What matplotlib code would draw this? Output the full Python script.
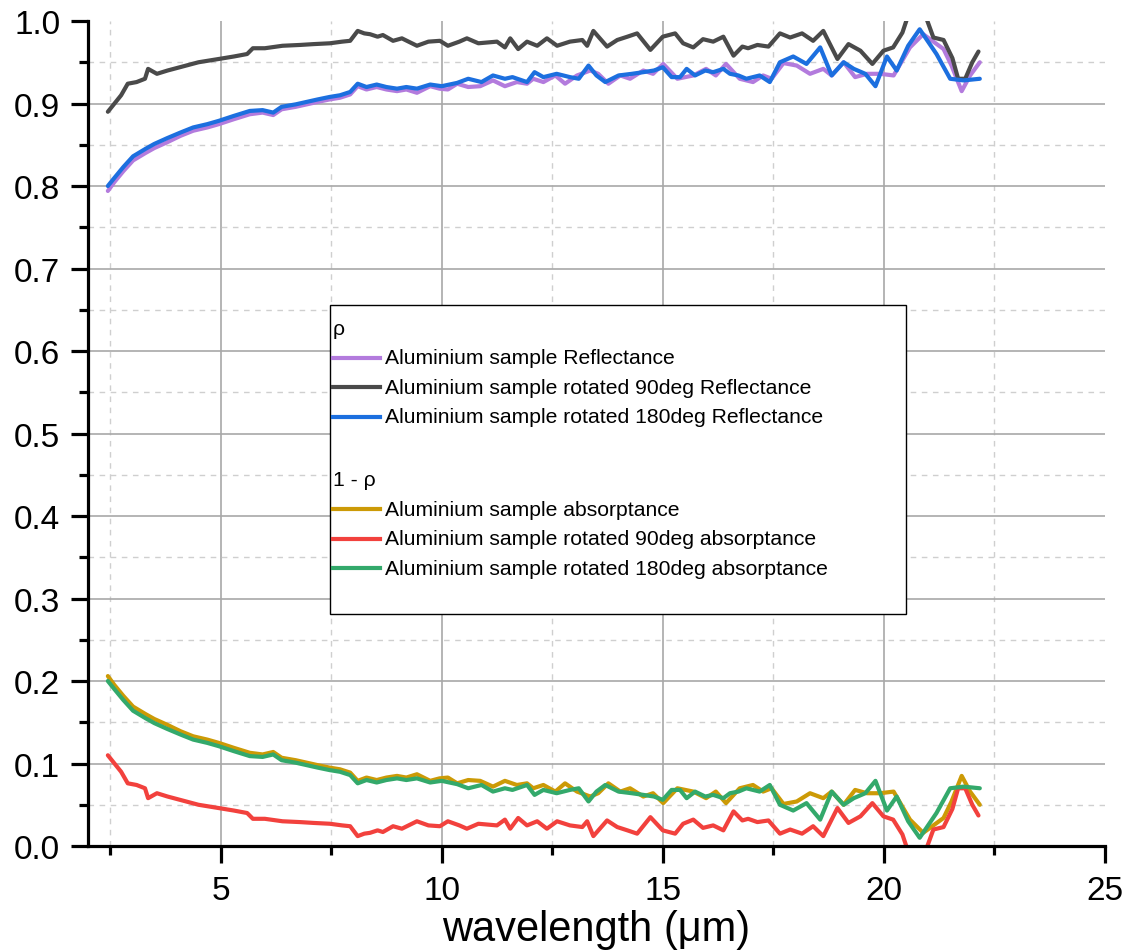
import matplotlib.pyplot as plt
import numpy as np
from matplotlib.lines import Line2D
from matplotlib.patches import Rectangle
from matplotlib.ticker import MultipleLocator

plt.rcParams['font.family'] = ['Liberation Sans', 'DejaVu Sans']

# reflectance, wavelength in um
wl_0 = [2.45, 2.6, 2.8, 3.02, 3.3, 3.5, 3.79, 4.1, 4.38, 4.7, 4.96, 5.3, 5.66, 5.95, 6.19,
        6.38, 6.7, 6.95, 7.2, 7.47, 7.7, 7.93, 8.1, 8.3, 8.53, 8.75, 8.99, 9.2, 9.44, 9.74,
        9.95, 10.14, 10.35, 10.6, 10.87, 11.16, 11.43, 11.7, 11.93, 12.07, 12.3, 12.57, 12.79,
        13.06, 13.36, 13.54, 13.77, 14.04, 14.26, 14.56, 14.78, 15.01, 15.33, 15.69, 15.98,
        16.2, 16.43, 16.74, 17.04, 17.27, 17.46, 17.73, 18.03, 18.33, 18.63, 18.82, 19.09,
        19.35, 19.62, 19.92, 20.22, 20.59, 20.89, 21.12, 21.35, 21.53, 21.76, 21.95, 22.17]
rho_0 = [0.794, 0.805, 0.818, 0.831, 0.840, 0.846, 0.853, 0.861, 0.867, 0.871, 0.875, 0.881,
         0.887, 0.889, 0.886, 0.893, 0.896, 0.899, 0.902, 0.905, 0.907, 0.911, 0.921, 0.917,
         0.920, 0.917, 0.915, 0.917, 0.913, 0.921, 0.918, 0.917, 0.924, 0.920, 0.921, 0.928,
         0.921, 0.926, 0.924, 0.930, 0.926, 0.934, 0.924, 0.934, 0.940, 0.936, 0.924, 0.934,
         0.930, 0.940, 0.936, 0.948, 0.930, 0.934, 0.942, 0.934, 0.948, 0.930, 0.926, 0.934,
         0.930, 0.949, 0.946, 0.936, 0.942, 0.934, 0.950, 0.932, 0.936, 0.936, 0.934, 0.968,
         0.984, 0.975, 0.966, 0.946, 0.915, 0.934, 0.950]

wl_90 = [2.45, 2.6, 2.75, 2.9, 3.1, 3.29, 3.36, 3.56, 3.8, 4.15, 4.5, 4.96, 5.3, 5.6, 5.73,
         6.0, 6.4, 6.8, 7.1, 7.47, 7.75, 7.93, 8.1, 8.25, 8.38, 8.55, 8.67, 8.9, 9.1, 9.44,
         9.7, 9.96, 10.14, 10.4, 10.57, 10.83, 11.25, 11.43, 11.55, 11.73, 11.93, 12.16, 12.38,
         12.61, 12.9, 13.18, 13.29, 13.43, 13.74, 13.97, 14.2, 14.42, 14.72, 15.0, 15.28,
         15.46, 15.69, 15.91, 16.14, 16.37, 16.6, 16.8, 16.93, 17.14, 17.39, 17.65, 17.88,
         18.15, 18.4, 18.63, 18.95, 19.2, 19.47, 19.74, 19.99, 20.21, 20.42, 20.6, 20.8,
         20.95, 21.12, 21.35, 21.55, 21.68, 21.84, 22.0, 22.14]
rho_90 = [0.890, 0.900, 0.910, 0.924, 0.926, 0.930, 0.942, 0.936, 0.940, 0.945, 0.950, 0.954,
          0.957, 0.960, 0.967, 0.967, 0.970, 0.971, 0.972, 0.973, 0.975, 0.976, 0.988, 0.985,
          0.984, 0.981, 0.983, 0.976, 0.979, 0.970, 0.975, 0.976, 0.970, 0.975, 0.979, 0.973,
          0.975, 0.968, 0.979, 0.966, 0.975, 0.970, 0.979, 0.970, 0.975, 0.977, 0.970, 0.988,
          0.969, 0.977, 0.981, 0.985, 0.965, 0.981, 0.985, 0.973, 0.968, 0.978, 0.975, 0.981,
          0.958, 0.969, 0.967, 0.971, 0.969, 0.985, 0.980, 0.985, 0.976, 0.988, 0.954, 0.972,
          0.964, 0.948, 0.964, 0.968, 0.986, 1.015, 1.030, 1.005, 0.980, 0.977, 0.955, 0.930,
          0.930, 0.950, 0.963]

wl_180 = [2.45, 2.6, 2.8, 3.02, 3.3, 3.5, 3.79, 4.1, 4.38, 4.7, 4.96, 5.3, 5.66, 5.95, 6.19,
          6.38, 6.7, 6.95, 7.2, 7.47, 7.7, 7.93, 8.1, 8.3, 8.53, 8.75, 8.99, 9.2, 9.44, 9.74,
          10.0, 10.35, 10.6, 10.9, 11.16, 11.43, 11.6, 11.93, 12.1, 12.3, 12.6, 12.9, 13.1,
          13.32, 13.5, 13.7, 14.0, 14.3, 14.56, 14.8, 15.0, 15.2, 15.39, 15.54, 15.73, 15.96,
          16.14, 16.37, 16.52, 16.71, 16.89, 17.19, 17.42, 17.65, 17.95, 18.25, 18.56, 18.82,
          19.09, 19.32, 19.58, 19.81, 20.07, 20.29, 20.55, 20.81, 21.0, 21.19, 21.5, 21.8, 22.17]
rho_180 = [0.800, 0.810, 0.823, 0.836, 0.845, 0.851, 0.858, 0.865, 0.871, 0.875, 0.879, 0.885,
           0.891, 0.892, 0.889, 0.896, 0.899, 0.902, 0.905, 0.908, 0.910, 0.914, 0.924, 0.920,
           0.923, 0.920, 0.918, 0.920, 0.918, 0.923, 0.921, 0.925, 0.930, 0.926, 0.934, 0.930,
           0.932, 0.926, 0.938, 0.932, 0.936, 0.932, 0.930, 0.946, 0.934, 0.926, 0.934, 0.936,
           0.938, 0.940, 0.944, 0.932, 0.932, 0.942, 0.934, 0.940, 0.938, 0.942, 0.936, 0.934,
           0.930, 0.934, 0.926, 0.950, 0.957, 0.948, 0.968, 0.934, 0.950, 0.942, 0.936, 0.921,
           0.957, 0.940, 0.970, 0.990, 0.975, 0.960, 0.930, 0.928, 0.930]

labels_rho = ['Aluminium sample Reflectance',
              'Aluminium sample rotated 90deg Reflectance',
              'Aluminium sample rotated 180deg Reflectance']
labels_abs = ['Aluminium sample absorptance',
              'Aluminium sample rotated 90deg absorptance',
              'Aluminium sample rotated 180deg absorptance']
colors_rho = ['#B37BDD', '#4A4A4A', '#1C6FDF']
colors_abs = ['#CC9A06', '#F2413D', '#33A96B']

series = [(wl_0, rho_0), (wl_90, rho_90), (wl_180, rho_180)]

fig = plt.figure(figsize=(11.32, 9.53), dpi=100)
ax = fig.add_axes([0.0777, 0.1112, 0.8984, 0.8657])

lw = 3.0
for (wl, r), c in zip(series, colors_rho):
    ax.plot(wl, r, color=c, lw=lw, solid_capstyle='round', solid_joinstyle='round')
for (wl, r), c in zip(series, colors_abs):
    ax.plot(wl, 1 - np.array(r), color=c, lw=lw, solid_capstyle='round',
            solid_joinstyle='round')

ax.set_xlim(2, 25)
ax.set_ylim(0, 1.0)
ax.xaxis.set_minor_locator(MultipleLocator(2.5))
ax.yaxis.set_minor_locator(MultipleLocator(0.05))
ax.set_xticks([5, 10, 15, 20, 25])
ax.set_yticks(np.arange(0, 1.01, 0.1))
ax.set_yticklabels(['%.1f' % v for v in np.arange(0, 1.01, 0.1)])

ax.grid(which='major', color='#A8A8A8', lw=1.2, ls='-')
ax.grid(which='minor', color='#CFCFCF', lw=1.0, ls=(0, (4, 4)))
ax.set_axisbelow(True)
# no grid line along the top and right edges
for g in ax.get_ygridlines()[-1:] + ax.get_xgridlines()[-1:]:
    g.set_visible(False)

for s in ['top', 'right']:
    ax.spines[s].set_visible(False)
for s in ['left', 'bottom']:
    ax.spines[s].set_linewidth(2.3)

ax.tick_params(which='major', length=12, width=2.3, labelsize=24, pad=8)
ax.tick_params(which='minor', length=6.5, width=2.3)
ax.tick_params(axis='x', which='major', pad=9)

ax.set_xlabel('wavelength (\u03bcm)', fontsize=30, labelpad=2)

# legend box drawn by hand so the group headers sit at the left edge
lx0, lx1, ly0, ly1 = 0.238, 0.804, 0.281, 0.656
ax.add_patch(Rectangle((lx0, ly0), lx1 - lx0, ly1 - ly0, transform=ax.transAxes,
                       facecolor='white', edgecolor='black', lw=1.0, zorder=5))
row_h = 29.5 / 825
top_row = (847 - 329) / 825
rows = [('\u03c1', None)] + list(zip(labels_rho, colors_rho)) + [('', None)] + \
       [('1 - \u03c1', None)] + list(zip(labels_abs, colors_abs))
for i, (txt, c) in enumerate(rows):
    yy = top_row - i * row_h - (0.14 * row_h if i >= 5 else 0)
    if c is None:
        ax.text(lx0 + 0.003, yy, txt, transform=ax.transAxes, fontsize=15.2,
                va='center', ha='left', zorder=6)
    else:
        ax.add_line(Line2D([lx0 + 0.0025, lx0 + 0.049], [yy, yy], transform=ax.transAxes,
                           color=c, lw=lw, zorder=6))
        ax.text(lx0 + 0.054, yy, txt, transform=ax.transAxes, fontsize=15.2,
                va='center', ha='left', zorder=6)

fig.savefig('out.png', dpi=100)
